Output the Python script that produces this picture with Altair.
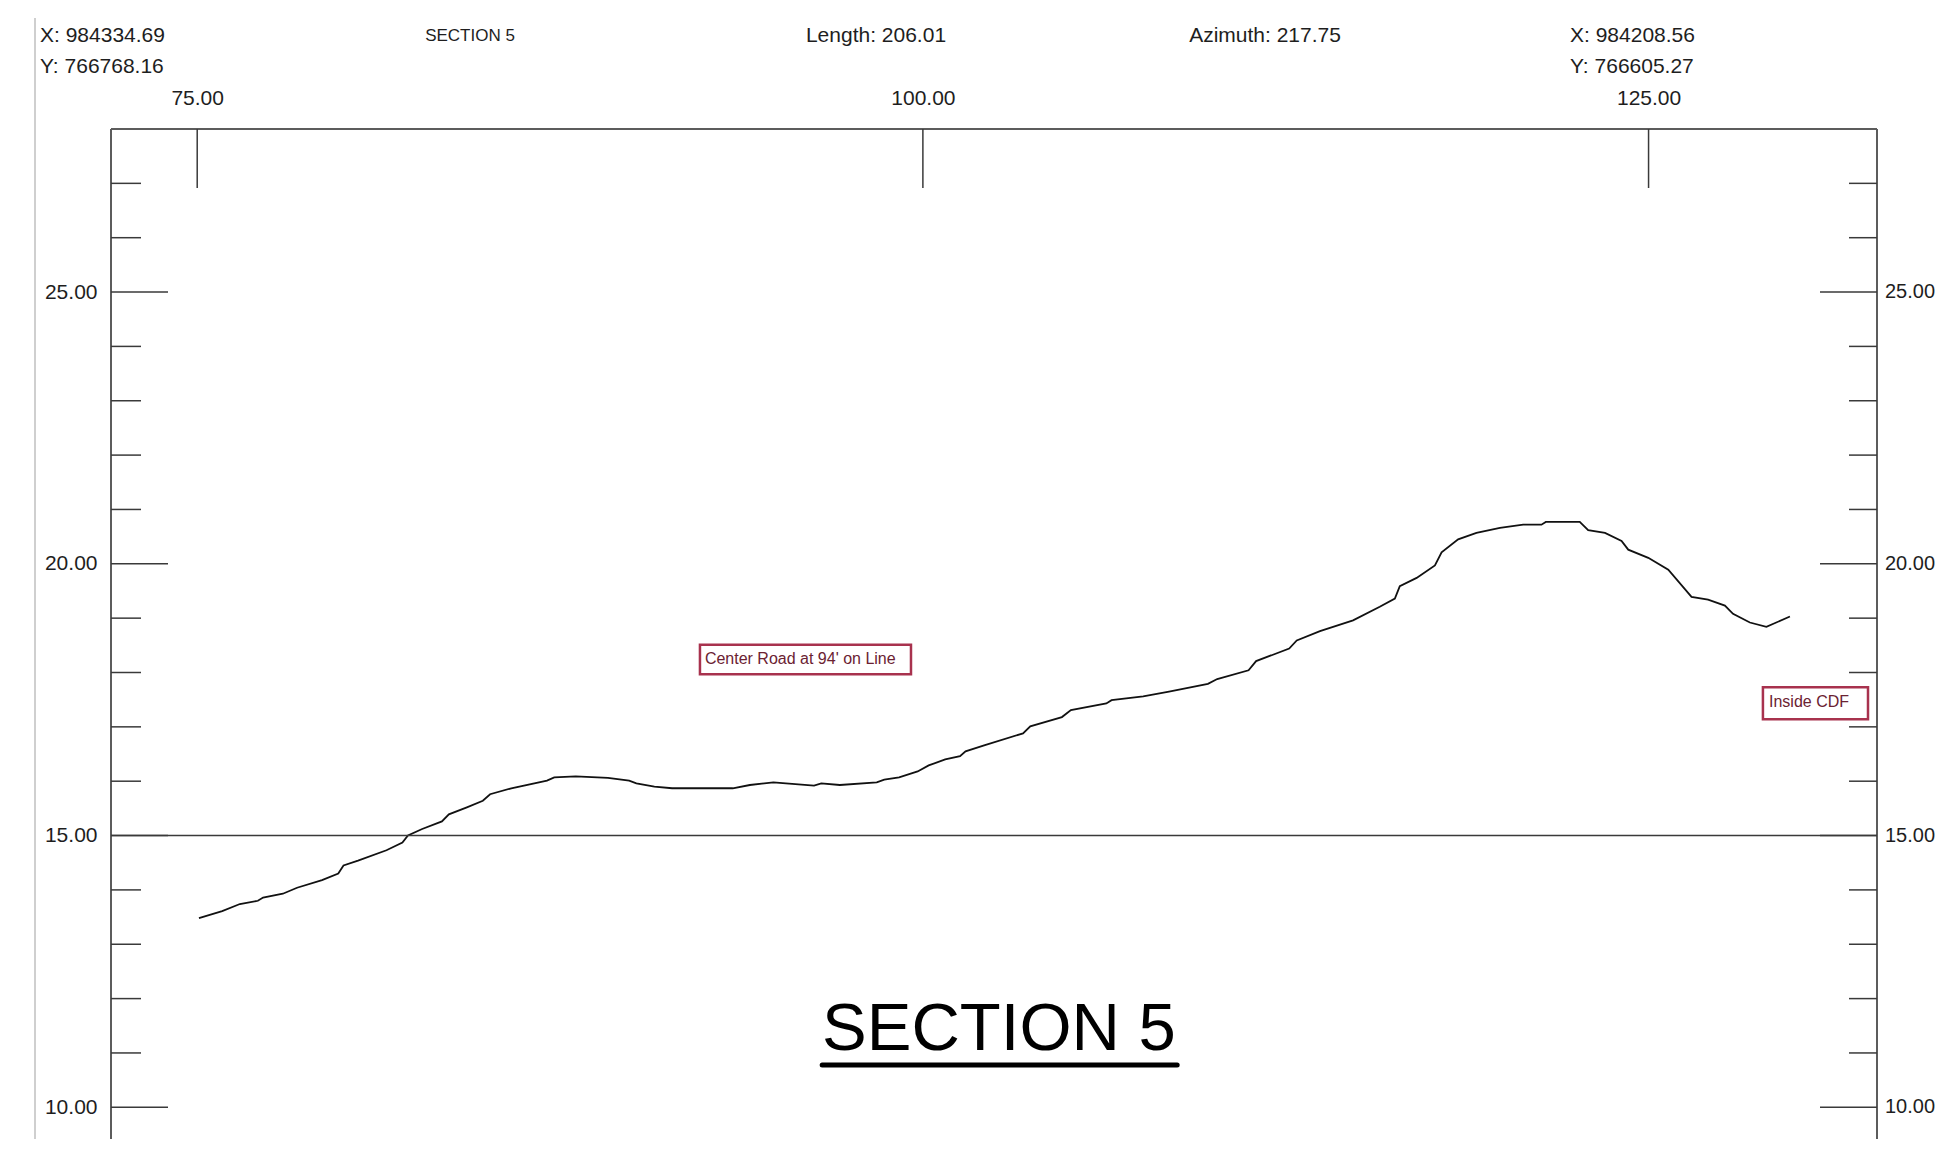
import altair as alt
import pandas as pd

# ---------------- data ----------------
station = [75.06, 75.86, 76.47, 77.09, 77.27, 77.95, 78.44, 79.30, 79.86, 80.04,
           80.54, 81.52, 82.07, 82.26, 82.75, 83.43, 83.67, 84.29, 84.84, 85.09,
           85.82, 87.05, 87.30, 88.04, 89.15, 89.88, 90.13, 90.75, 91.36, 93.45,
           94.04, 94.85, 96.25, 96.50, 97.14, 98.41, 98.67, 99.18, 99.82, 100.20,
           100.77, 101.28, 101.47, 102.11, 103.45, 103.70, 104.79, 105.10, 106.32, 106.50,
           107.59, 108.48, 109.82, 110.14, 111.22, 111.48, 112.62, 112.88, 113.68, 114.82,
           115.74, 116.26, 116.43, 117.01, 117.64, 117.87, 118.44, 119.07, 119.88, 120.68,
           121.31, 121.46, 122.63, 122.92, 123.50, 124.07, 124.30, 124.99, 125.68, 126.48,
           127.05, 127.63, 127.91, 128.49, 129.06, 129.87]
elevation = [13.48, 13.61, 13.74, 13.80, 13.86, 13.93, 14.04, 14.18, 14.30, 14.45,
             14.54, 14.73, 14.87, 15.00, 15.12, 15.26, 15.39, 15.52, 15.64, 15.76,
             15.87, 16.01, 16.07, 16.09, 16.06, 16.01, 15.96, 15.90, 15.87, 15.87,
             15.93, 15.98, 15.92, 15.96, 15.93, 15.98, 16.03, 16.07, 16.18, 16.29,
             16.40, 16.46, 16.55, 16.66, 16.88, 17.01, 17.18, 17.31, 17.43, 17.49,
             17.56, 17.65, 17.79, 17.88, 18.04, 18.21, 18.44, 18.59, 18.76, 18.96,
             19.21, 19.36, 19.59, 19.74, 19.97, 20.21, 20.45, 20.57, 20.66, 20.72,
             20.72, 20.77, 20.77, 20.62, 20.57, 20.42, 20.26, 20.11, 19.89, 19.39,
             19.34, 19.23, 19.08, 18.92, 18.84, 19.03]

x_ticks = [75, 100, 125]
y_major = [10, 15, 20, 25]
y_minor = [11, 12, 13, 14, 16, 17, 18, 19, 21, 22, 23, 24, 26, 27]
datum_elev = [15]

header_texts = ["X: 984334.69", "Y: 766768.16", "SECTION 5", "Length: 206.01",
                "Azimuth: 217.75", "X: 984208.56", "Y: 766605.27"]
title_text = "SECTION 5"
note_texts = ["Center Road at 94' on Line", "Inside CDF"]

# ---------------- layout / style ----------------
W, H = 1766, 1010
PAD = {"left": 103, "top": 121, "right": 60, "bottom": 0}
X_DOM = [72.03, 132.87]
Y_TOP = 28.0
PX_PER_FT = 54.35
Y_DOM = [Y_TOP - H / PX_PER_FT, Y_TOP]
FONT = "Liberation Sans"
INK = "#1e1e1e"
FRAME = "#5c5c5c"
TICK = "#3a3a3a"
NOTE_RED = "#a8324e"
NOTE_TEXT = "#6b2232"

# header text positions (pixels relative to plot origin)
header_pos = [(-71, -93, "left", 21), (-71, -62, "left", 21), (359, -93, "center", 17),
              (765, -93, "center", 21), (1154, -93, "center", 21),
              (1459, -93, "left", 21), (1459, -62, "left", 21)]
# note boxes in data units: x0, x1, y0, y1, text x, text y
note_pos = [(92.32, 99.59, 17.97, 18.51, 92.49, 18.25),
            (128.94, 132.56, 17.14, 17.73, 129.15, 17.46)]
title_pos = (102.62, 11.05)
underline_pos = (96.53, 108.76, 10.78)

xs = alt.Scale(domain=X_DOM, nice=False, zero=False)
ys = alt.Scale(domain=Y_DOM, nice=False, zero=False)
one = pd.DataFrame({"k": [0]})

layers = []

# page edge line
layers.append(alt.Chart(one).mark_rule(color="#cfcfcf", strokeWidth=2).encode(
    x=alt.value(-76), y=alt.value(-111), y2=alt.value(H)))

# profile line with axes
profile = pd.DataFrame({"station": station, "elev": elevation})
layers.append(alt.Chart(profile).mark_line(color="#111111", strokeWidth=1.8).encode(
    x=alt.X("station:Q", scale=xs,
            axis=alt.Axis(orient="top", values=x_ticks, format=".2f", ticks=False,
                          domain=False, grid=False, labelFont=FONT, labelFontSize=21,
                          labelColor=INK, labelPadding=21, labelFlush=False, title=None)),
    y=alt.Y("elev:Q", scale=ys,
            axis=alt.Axis(orient="left", values=y_major, format=".2f", ticks=False,
                          domain=False, grid=False, labelFont=FONT, labelFontSize=21,
                          labelColor=INK, labelPadding=14, title=None)),
    order="station:Q"))

# frame
layers.append(alt.Chart(one).mark_rule(color=FRAME, strokeWidth=2).encode(
    x=alt.value(0), x2=alt.value(W), y=alt.value(0)))
layers.append(alt.Chart(one).mark_rule(color=FRAME, strokeWidth=2).encode(
    x=alt.value(0), y=alt.value(0), y2=alt.value(H)))
layers.append(alt.Chart(one).mark_rule(color=FRAME, strokeWidth=2).encode(
    x=alt.value(W), y=alt.value(0), y2=alt.value(H)))

# datum line at 15
layers.append(alt.Chart(pd.DataFrame({"v": datum_elev})).mark_rule(color=TICK, strokeWidth=1.5).encode(
    y=alt.Y("v:Q", scale=ys), x=alt.value(0), x2=alt.value(W)))


def yticks(vals, x0, x1):
    return alt.Chart(pd.DataFrame({"v": vals})).mark_rule(color=TICK, strokeWidth=1.5).encode(
        y=alt.Y("v:Q", scale=ys), x=alt.value(x0), x2=alt.value(x1))


layers += [yticks(y_major, 0, 57), yticks(y_minor, 0, 30),
           yticks(y_major, W - 57, W), yticks(y_minor, W - 28, W)]

# top station ticks (inside)
layers.append(alt.Chart(pd.DataFrame({"v": x_ticks})).mark_rule(color=TICK, strokeWidth=1.5).encode(
    x=alt.X("v:Q", scale=xs), y=alt.value(0), y2=alt.value(59)))

# right labels
layers.append(alt.Chart(pd.DataFrame({"v": y_major})).mark_text(
    align="left", baseline="middle", font=FONT, fontSize=20, color=INK).encode(
    y=alt.Y("v:Q", scale=ys), x=alt.value(W + 8), text=alt.Text("v:Q", format=".2f")))

# header texts
for t, (px, py, al, fs) in zip(header_texts, header_pos):
    layers.append(alt.Chart(one).mark_text(align=al, baseline="middle", font=FONT,
                                           fontSize=fs, color=INK).encode(
        x=alt.value(px), y=alt.value(py), text=alt.value(t)))

# annotation boxes
for t, (x0, x1, y0, y1, tx, ty) in zip(note_texts, note_pos):
    box = pd.DataFrame({"x0": [x0], "x1": [x1], "y0": [y0], "y1": [y1]})
    layers.append(alt.Chart(box).mark_rect(fill="white", stroke=NOTE_RED, strokeWidth=2.5).encode(
        x=alt.X("x0:Q", scale=xs), x2="x1:Q", y=alt.Y("y0:Q", scale=ys), y2="y1:Q"))
    lab = pd.DataFrame({"tx": [tx], "ty": [ty], "t": [t]})
    layers.append(alt.Chart(lab).mark_text(align="left", baseline="middle", font=FONT,
                                           fontSize=16, color=NOTE_TEXT).encode(
        x=alt.X("tx:Q", scale=xs), y=alt.Y("ty:Q", scale=ys), text="t:N"))

# big title and underline
tdf = pd.DataFrame({"tx": [title_pos[0]], "ty": [title_pos[1]], "t": [title_text]})
layers.append(alt.Chart(tdf).mark_text(align="center", baseline="alphabetic", font=FONT,
                                       fontSize=67, color="#000000").encode(
    x=alt.X("tx:Q", scale=xs), y=alt.Y("ty:Q", scale=ys), text="t:N"))
udf = pd.DataFrame({"a": [underline_pos[0]], "b": [underline_pos[1]], "y": [underline_pos[2]]})
layers.append(alt.Chart(udf).mark_rule(color="#000000", strokeWidth=5, strokeCap="round").encode(
    x=alt.X("a:Q", scale=xs), x2="b:Q", y=alt.Y("y:Q", scale=ys)))

chart = alt.layer(*layers).properties(
    width=W, height=H, padding=PAD,
    autosize=alt.AutoSizeParams(type="none"),
    background="white",
).configure_view(stroke=None)

chart.save("out.html", embed_options={"renderer": "svg", "actions": False})
